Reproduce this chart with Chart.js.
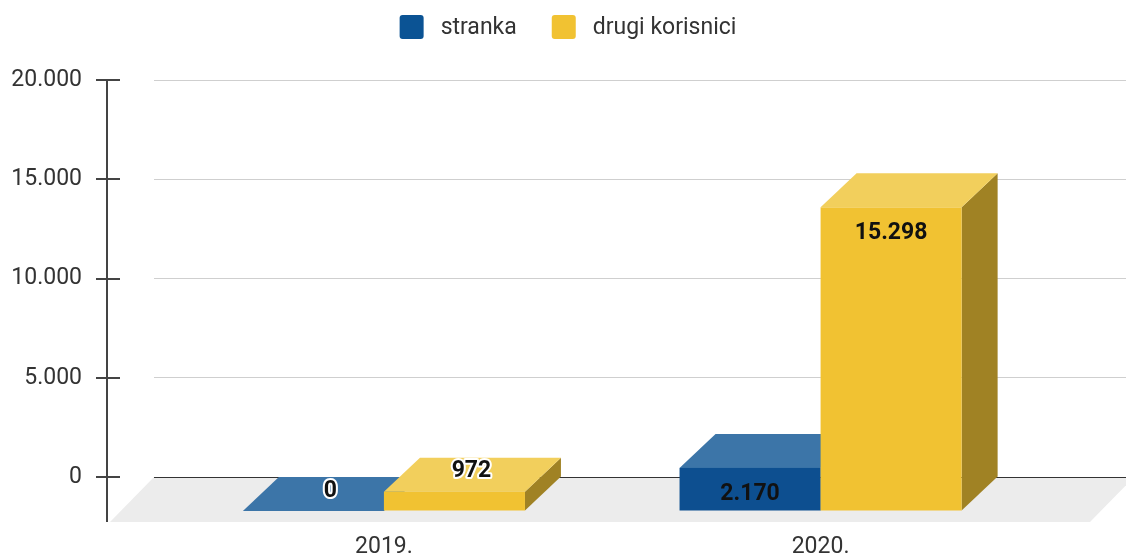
<!DOCTYPE html>
<html>
<head>
<meta charset="utf-8">
<script src="https://cdn.jsdelivr.net/npm/chart.js@4.4.0/dist/chart.umd.min.js"></script>
<style>
  html, body { margin: 0; padding: 0; background: #fff; }
  #wrap { width: 1126px; height: 557px; }
</style>
</head>
<body>
<div id="wrap"><canvas id="canvas" width="1126" height="557"></canvas></div>
<script>
const years = ['2019.', '2020.'];
const seriesNames = ['stranka', 'drugi korisnici'];
const stranka = [0, 2170];
const drugiKorisnici = [972, 15298];
const yTicks = [0, 5000, 10000, 15000, 20000];

const frontColors = ['#0d4f90', '#f1c232'];
const topColors = ['#3c75a8', '#f2cf5c'];
const sideColors = ['#093a6a', '#a08224'];
const legendColors = ['#0b5394', '#f1c232'];

const DX = 36, DY = 34;     // bar depth
const FDX = 44, FDY = 45;   // floor depth
const FONT = 'Roboto, "Liberation Sans", Arial, sans-serif';

// 15298 -> 15.298
function fmt(v) {
  return String(v).replace(/\B(?=(\d{3})+(?!\d))/g, '.');
}

function poly(ctx, pts, color) {
  ctx.fillStyle = color;
  ctx.beginPath();
  ctx.moveTo(pts[0][0], pts[0][1]);
  for (let i = 1; i < pts.length; i++) ctx.lineTo(pts[i][0], pts[i][1]);
  ctx.closePath();
  ctx.fill();
}

const depth3d = {
  id: 'depth3d',
  beforeDraw(chart) {
    const {ctx, chartArea: a, scales: {y}} = chart;
    const y0 = y.getPixelForValue(0);
    ctx.save();
    // floor
    poly(ctx, [[a.left, y0], [a.right + 8, y0], [a.right + 8 - FDX, y0 + FDY], [a.left - FDX, y0 + FDY]], '#ececec');
    // axis line + tick marks
    ctx.strokeStyle = '#444';
    ctx.lineWidth = 2;
    ctx.beginPath();
    ctx.moveTo(107, y.getPixelForValue(yTicks[yTicks.length - 1]));
    ctx.lineTo(107, y0 + FDY);
    yTicks.forEach(v => {
      const py = Math.round(y.getPixelForValue(v));
      ctx.moveTo(96, py);
      ctx.lineTo(120, py);
    });
    ctx.stroke();
    ctx.restore();
  },
  afterDatasetsDraw(chart) {
    const ctx = chart.ctx;
    const boxes = [];
    ctx.save();
    chart.data.datasets.forEach((ds, di) => {
      chart.getDatasetMeta(di).data.forEach((bar, i) => {
        const p = bar.getProps(['x', 'y', 'base', 'width'], true);
        const bl = p.x - p.width / 2, br = p.x + p.width / 2;
        const fl = bl - DX, fr = br - DX, ft = p.y + DY, fb = p.base + DY;
        poly(ctx, [[fr, ft], [br, p.y], [br, p.base], [fr, fb]], sideColors[di]);
        poly(ctx, [[fl, ft], [bl, p.y], [br, p.y], [fr, ft]], topColors[di]);
        ctx.fillStyle = frontColors[di];
        ctx.fillRect(fl, ft, fr - fl, fb - ft);
        boxes.push({fl, fr, ft, fb, v: ds.data[i].y});
      });
    });
    // value labels
    ctx.font = 'bold 23px ' + FONT;
    ctx.textAlign = 'center';
    ctx.textBaseline = 'middle';
    boxes.forEach(b => {
      const txt = fmt(b.v);
      if (b.fb - b.ft >= 32) {
        ctx.fillStyle = '#111';
        ctx.fillText(txt, (b.fl + b.fr) / 2, b.ft + 26);
      } else {
        const x = (b.fl + b.fr) / 2 + DX / 2 - 1, y = b.ft - DY / 2 - 3;
        ctx.strokeStyle = '#fff';
        ctx.lineWidth = 4;
        ctx.lineJoin = 'round';
        ctx.strokeText(txt, x, y);
        ctx.fillStyle = '#111';
        ctx.fillText(txt, x, y);
      }
    });
    ctx.restore();
  },
  afterDraw(chart) {
    // legend
    const ctx = chart.ctx;
    ctx.save();
    ctx.font = '23px ' + FONT;
    const widths = seriesNames.map(n => ctx.measureText(n).width);
    const total = widths.reduce((s, w) => s + 24 + 17 + w, 0) + 35 * (seriesNames.length - 1);
    let x = (chart.width - total) / 2 + 5;
    ctx.textBaseline = 'middle';
    ctx.textAlign = 'left';
    seriesNames.forEach((n, i) => {
      ctx.fillStyle = legendColors[i];
      ctx.beginPath();
      ctx.roundRect(x, 15, 24, 24, 3);
      ctx.fill();
      ctx.fillStyle = '#333';
      ctx.fillText(n, x + 24 + 17, 28);
      x += 24 + 17 + widths[i] + 35;
    });
    ctx.restore();
  }
};

new Chart(document.getElementById('canvas'), {
  type: 'bar',
  data: {
    datasets: [
      {
        label: seriesNames[0],
        data: stranka.map((v, i) => ({x: i, y: v})),
        backgroundColor: 'rgba(0,0,0,0)',
        categoryPercentage: 0.646,
        barPercentage: 1
      },
      {
        label: seriesNames[1],
        data: drugiKorisnici.map((v, i) => ({x: i, y: v})),
        backgroundColor: 'rgba(0,0,0,0)',
        categoryPercentage: 0.646,
        barPercentage: 1
      }
    ]
  },
  options: {
    responsive: false,
    animation: false,
    layout: { padding: { top: 80, right: 0, bottom: 0, left: 0 } },
    plugins: {
      legend: { display: false },
      tooltip: { enabled: false }
    },
    scales: {
      x: {
        type: 'linear',
        offset: false,
        min: -0.609,
        max: 1.617,
        grid: { display: false },
        border: { display: false },
        afterBuildTicks: s => { s.ticks = years.map((_, i) => ({value: i})); },
        afterFit: s => { s.height = 80; },
        ticks: {
          callback: v => years[v],
          labelOffset: -DX,
          padding: 48,
          maxRotation: 0,
          autoSkip: false,
          color: '#333',
          font: { family: FONT, size: 23 }
        }
      },
      y: {
        min: 0,
        max: 20000,
        afterBuildTicks: s => { s.ticks = yTicks.map(v => ({value: v})); },
        afterFit: s => { s.width = 154; },
        grid: {
          color: c => c.tick.value === 0 ? '#333' : '#cfcfcf',
          drawTicks: true,
          tickLength: 72,
          tickColor: 'rgba(0,0,0,0)'
        },
        border: { display: false },
        ticks: {
          callback: v => fmt(v),
          padding: 0,
          color: '#333',
          font: { family: FONT, size: 23 }
        }
      }
    }
  },
  plugins: [depth3d]
});
</script>
</body>
</html>
